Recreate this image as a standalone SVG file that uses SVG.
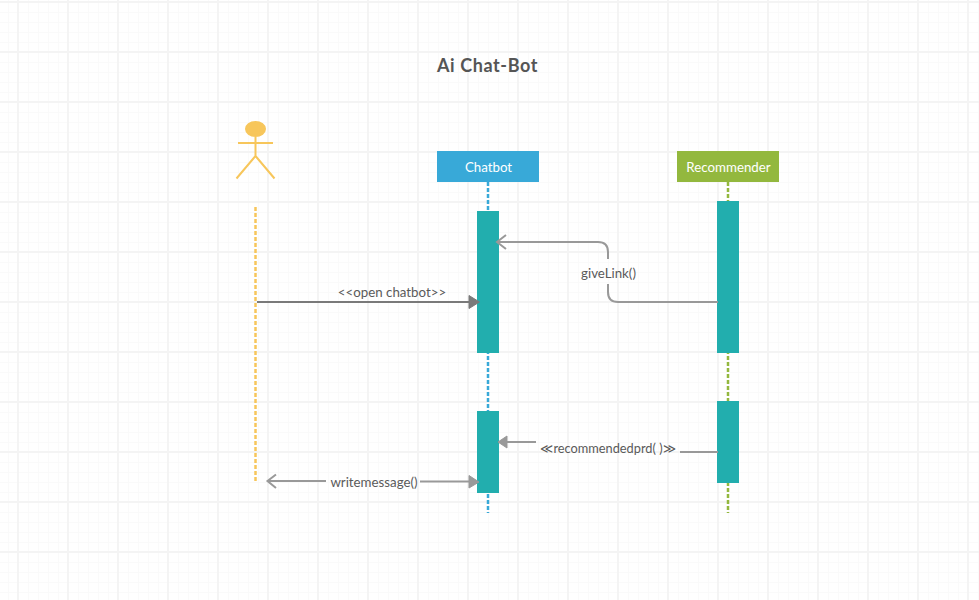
<svg xmlns="http://www.w3.org/2000/svg" width="979" height="600" viewBox="0 0 979 600">
<style>
text{font-family:Lato,"Open Sans","Liberation Sans",sans-serif}
.title{font-size:18px;font-weight:700;fill:#555;letter-spacing:.6px}
.head{font-size:13.3px;fill:#fff;text-anchor:middle}
.lbl{font-size:13.3px;fill:#5a5a5a;text-anchor:middle}
.bar{fill:#22aeae}
.life{fill:none;stroke-width:2.500;stroke-dasharray:4 2}
.msg{fill:none;stroke:#999;stroke-width:2}
.open{fill:none;stroke:#999;stroke-width:2}
.solid{fill:#999;stroke:#999;stroke-width:1;stroke-linejoin:round}
.actor{fill:none;stroke:#f7c65b;stroke-width:2}
</style>
<defs>
<pattern id="minor" x="8" y="2" width="10" height="10" patternUnits="userSpaceOnUse">
<rect width="10" height="1" fill="#fafafa"/><rect width="1" height="10" fill="#fafafa"/>
</pattern>
<pattern id="major" x="17" y="1" width="50" height="50" patternUnits="userSpaceOnUse">
<rect width="50" height="2" fill="#f4f4f4"/><rect width="2" height="50" fill="#f4f4f4"/>
</pattern>
</defs>
<rect width="979" height="600" fill="#fff"/>
<rect width="979" height="600" fill="url(#minor)"/>
<rect width="979" height="600" fill="url(#major)"/>
<text id="title" class="title" x="487.500" y="71.500" text-anchor="middle">Ai Chat-Bot</text>
<g id="connectors">
<path class="life" stroke="#f7c65b" d="M255.500 207V481"/>
<path class="life" stroke="#38a9d8" d="M488 182V513"/>
<path class="life" stroke="#93b83e" d="M728 182V513"/>
</g>
<g id="actor">
<ellipse cx="255.500" cy="129" rx="10.500" ry="8" fill="#f7c65b"/>
<path class="actor" d="M255.500 137V156M238 143H273M255.500 156L236.500 178.500M255.500 156L274.500 178.500"/>
</g>
<g id="chatbot"><rect x="437" y="151" width="102" height="31" fill="#38a9d8"/><text class="head" x="488.500" y="172">Chatbot</text></g>
<g id="recommender"><rect x="677" y="151" width="102" height="31" fill="#93b83e"/><text class="head" x="728.500" y="172">Recommender</text></g>
<g id="bar-chatbot-1"><rect class="bar" x="477" y="211" width="22" height="142"/></g>
<g id="bar-recommender-1"><rect class="bar" x="717" y="201" width="22" height="152"/></g>
<g id="bar-chatbot-2"><rect class="bar" x="477" y="411" width="22" height="82"/></g>
<g id="bar-recommender-2"><rect class="bar" x="717" y="401" width="22" height="82"/></g>
<g id="messages">
<path d="M257 302H470" fill="none" stroke="#7a7a7a" stroke-width="2"/>
<path d="M469 295.500L479.500 302L469 308.500Z" fill="#7a7a7a" stroke="#7a7a7a" stroke-linejoin="round"/>
<path class="msg" d="M608 259V252Q608 242 598 242H498"/>
<path class="open" d="M506 235L497 242L506 249"/>
<path class="msg" d="M608 284V292Q608 302 618 302H718"/>
<path class="msg" d="M536 442H500"/>
<path class="solid" d="M507 436L498 442L507 448Z"/>
<path class="msg" d="M718 452H680"/>
<path class="msg" d="M326 481H268"/>
<path class="open" d="M276 474.500L267.500 481L276 488"/>
<path class="msg" d="M420 481.500H470"/>
<path class="solid" d="M469 475.500L479 482L469 488Z"/>
</g>
<text class="lbl" x="392" y="297">&lt;&lt;open chatbot&gt;&gt;</text>
<text class="lbl" x="608.500" y="278">giveLink()</text>
<text class="lbl" x="608" y="453" textLength="136" lengthAdjust="spacingAndGlyphs">≪recommendedprd( )≫</text>
<text class="lbl" x="374" y="487">writemessage()</text>
</svg>
